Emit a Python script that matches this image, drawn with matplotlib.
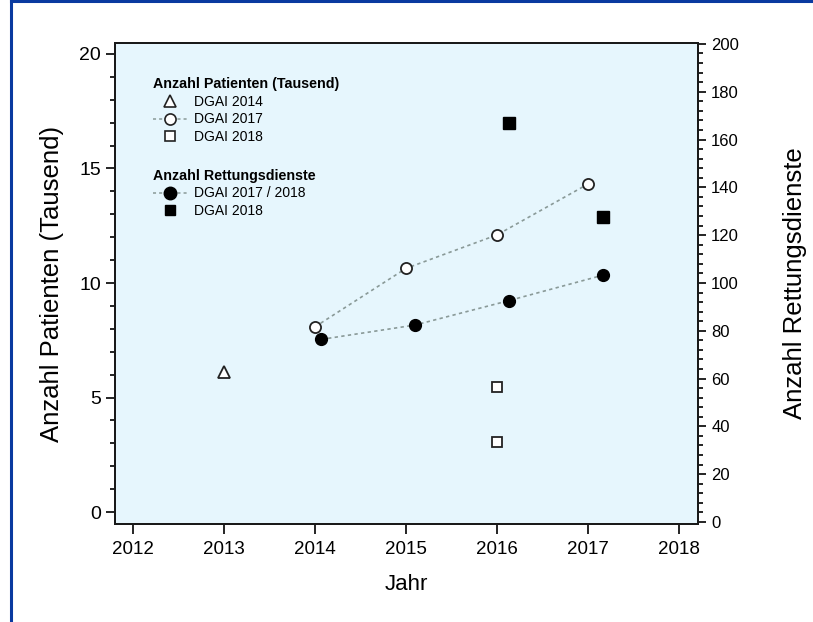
import matplotlib.pyplot as plt
from matplotlib.lines import Line2D

plt.rcParams['font.family'] = ['Liberation Sans', 'DejaVu Sans']

# Anzahl Patienten (Tausend)
jahr_2014 = [2013]
pat_2014 = [6.13]
jahr_2017 = [2014, 2015, 2016, 2017]
pat_2017 = [8.09, 10.64, 12.1, 14.32]
jahr_2018 = [2016, 2016]
pat_2018 = [5.47, 3.06]

# Anzahl Rettungsdienste
jahr_rd = [2014.07, 2015.1, 2016.13, 2017.17]
rd_2017_2018 = [76.4, 82.4, 92.6, 103.3]
jahr_rd18 = [2016.13, 2017.17]
rd_2018 = [167, 127.6]

bg = '#e6f6fd'
line_col = '#8a9a98'
edge = '#222222'

fig = plt.figure(figsize=(8.13, 6.22), dpi=100)
ax = fig.add_axes([0.1415, 0.1576, 0.717, 0.7733])
ax.set_facecolor(bg)
ax2 = ax.twinx()

ax.plot(jahr_2014, pat_2014, linestyle='none', marker='^', ms=9,
        mfc='white', mec=edge, mew=1.3, zorder=3)
ax.plot(jahr_2017, pat_2017, linestyle=(0, (2, 2)), color=line_col, lw=1.2,
        marker='o', ms=8, mfc='white', mec=edge, mew=1.3, zorder=3)
ax.plot(jahr_2018, pat_2018, linestyle='none', marker='s', ms=7.5,
        mfc='white', mec=edge, mew=1.3, zorder=3)

ax2.plot(jahr_rd, rd_2017_2018, linestyle=(0, (2, 2)), color=line_col, lw=1.2,
         marker='o', ms=8.5, mfc='black', mec='black', zorder=3)
ax2.plot(jahr_rd18, rd_2018, linestyle='none', marker='s', ms=8,
         mfc='black', mec='black', zorder=3)

ax.set_xlim(2011.8, 2018.21)
ax.set_ylim(-0.52, 20.48)
ax2.set_ylim(-0.84, 200.4)

ax.set_xticks(range(2012, 2019))
ax.set_yticks([0, 5, 10, 15, 20])
ax.set_yticks(range(0, 21), minor=True)
ax2.set_yticks(range(0, 201, 20))
ax2.set_yticks(range(0, 201, 4), minor=True)

ax.tick_params(axis='x', which='major', direction='out', length=7, width=1.2,
               labelsize=13.5, pad=5)
ax.tick_params(axis='y', which='major', direction='out', length=6.5, width=1.2,
               labelsize=14)
ax.tick_params(axis='y', which='minor', direction='out', length=3.5, width=1.2)
ax2.tick_params(axis='y', which='major', direction='out', length=6, width=1.2,
                labelsize=12)
ax2.tick_params(axis='y', which='minor', direction='out', length=3.5, width=1.2)

for a in (ax, ax2):
    for s in a.spines.values():
        s.set_linewidth(1.4)
        s.set_color('#1a1a1a')

ax.set_xlabel('Jahr', fontsize=16, labelpad=12)
ax.set_ylabel('Anzahl Patienten (Tausend)', fontsize=18.5, labelpad=11)
ax2.set_ylabel('Anzahl Rettungsdienste', fontsize=18.5, labelpad=32)

# legends
h1 = [
    Line2D([], [], linestyle='none', marker='^', ms=8, mfc='white', mec=edge, mew=1.2),
    Line2D([], [], linestyle=(0, (2, 2)), color=line_col, lw=1.1,
           marker='o', ms=8, mfc='white', mec=edge, mew=1.2),
    Line2D([], [], linestyle='none', marker='s', ms=7, mfc='white', mec=edge, mew=1.2),
]
l1 = ['DGAI 2014', 'DGAI 2017', 'DGAI 2018']
h2 = [
    Line2D([], [], linestyle=(0, (2, 2)), color=line_col, lw=1.1,
           marker='o', ms=9, mfc='black', mec='black'),
    Line2D([], [], linestyle='none', marker='s', ms=7.5, mfc='black', mec='black'),
]
l2 = ['DGAI 2017 / 2018', 'DGAI 2018']

leg_kw = dict(loc='upper left', frameon=False, fontsize=10, alignment='left',
              handlelength=2.5, handletextpad=0.45, labelspacing=0.28,
              borderaxespad=0, borderpad=0,
              title_fontproperties={'weight': 'bold', 'size': 10.3})
leg1 = ax2.legend(h1, l1, title='Anzahl Patienten (Tausend)',
                  bbox_to_anchor=(0.065, 0.93), **leg_kw)
ax2.add_artist(leg1)
ax2.legend(h2, l2, title='Anzahl Rettungsdienste',
           bbox_to_anchor=(0.065, 0.739), **leg_kw)

# blue frame around the figure (left and top edges visible)
fig.add_artist(Line2D([0.0135, 0.0135], [0, 1], color='#0a3aa0', lw=2.2,
                      transform=fig.transFigure))
fig.add_artist(Line2D([0.0135, 1], [0.999, 0.999], color='#0a3aa0', lw=2.2,
                      transform=fig.transFigure))

fig.savefig('out.png', dpi=100)
